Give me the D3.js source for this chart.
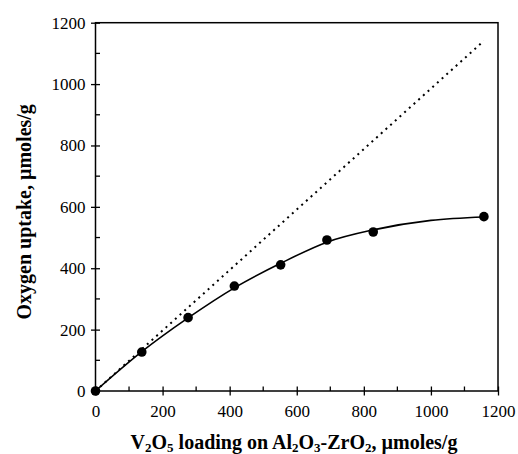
<!DOCTYPE html>
<html><head><meta charset="utf-8">
<script src="https://cdn.jsdelivr.net/npm/d3@7"></script>
<style>body{margin:0;background:#fff}svg{display:block}text{font-family:"Liberation Serif","Times New Roman",serif;fill:#000}</style>
</head><body>
<svg id="c" width="518" height="454"></svg>
<script>
const loading = [0, 138, 276, 414, 552, 690, 828, 1158];
const uptake  = [0, 127, 239, 342, 411, 492, 518, 568];
const fitX = [0, 138, 276, 414, 552, 690, 828, 1000, 1158];
const fitY = [0, 128, 238, 336, 416, 485, 525, 556, 567];
const theoryX = [0, 1158];
const theoryY = [0, 1141];
const xTicks = [0, 200, 400, 600, 800, 1000, 1200];
const yTicks = [0, 200, 400, 600, 800, 1000, 1200];

const svg = d3.select("#c");
const L = 95.5, R = 498, T = 22.7, B = 391;
const x = d3.scaleLinear().domain([0, 1200]).range([L, R]);
const y = d3.scaleLinear().domain([0, 1200]).range([B, T]);
const FONT = '"Liberation Serif", "Times New Roman", serif';

svg.append("rect").attr("x", L).attr("y", T).attr("width", R - L).attr("height", B - T)
  .attr("fill", "none").attr("stroke", "#000").attr("stroke-width", 1.5);

const minor = d3.range(100, 1200, 200);
svg.append("g").selectAll("line").data(minor).join("line")
  .attr("x1", d => x(d)).attr("x2", d => x(d)).attr("y1", B).attr("y2", B - 4.5)
  .attr("stroke", "#000").attr("stroke-width", 1.3);
svg.append("g").selectAll("line").data(minor).join("line")
  .attr("y1", d => y(d)).attr("y2", d => y(d)).attr("x1", L).attr("x2", L + 4.5)
  .attr("stroke", "#000").attr("stroke-width", 1.3);

const fmt = d3.format("d");
const xa = svg.append("g").attr("transform", `translate(0,${B})`)
  .call(d3.axisBottom(x).tickValues(xTicks).tickFormat(fmt).tickSizeInner(4.5).tickSizeOuter(0).tickPadding(9));
const ya = svg.append("g").attr("transform", `translate(${L},0)`)
  .call(d3.axisLeft(y).tickValues(yTicks).tickFormat(fmt).tickSizeInner(4.5).tickSizeOuter(0).tickPadding(6));
[xa, ya].forEach(a => {
  a.attr("font-family", FONT).attr("font-size", 17);
  a.select(".domain").remove();
  a.selectAll(".tick line").attr("stroke", "#000").attr("stroke-width", 1.3);
  a.selectAll(".tick text").attr("font-family", FONT).attr("font-size", 17).attr("fill", "#000");
});
xa.selectAll(".tick line").attr("y1", -4.5).attr("y2", 4.5);
ya.selectAll(".tick line").attr("x1", -4.5).attr("x2", 4.5);
ya.selectAll(".tick text").attr("x", -10);

svg.append("path")
  .datum(theoryX.map((d, i) => [d, theoryY[i]]))
  .attr("d", d3.line().x(d => x(d[0])).y(d => y(d[1])))
  .attr("fill", "none").attr("stroke", "#000").attr("stroke-width", 2)
  .attr("stroke-dasharray", "2,4.3");

svg.append("path")
  .datum(fitX.map((d, i) => [d, fitY[i]]))
  .attr("d", d3.line().x(d => x(d[0])).y(d => y(d[1])).curve(d3.curveMonotoneX))
  .attr("fill", "none").attr("stroke", "#000").attr("stroke-width", 1.6);

svg.append("g").selectAll("circle").data(loading).join("circle")
  .attr("cx", d => x(d)).attr("cy", (d, i) => y(uptake[i])).attr("r", 4.8).attr("fill", "#000");

const xt = svg.append("text").attr("x", 294).attr("y", 449).attr("text-anchor", "middle")
  .attr("font-family", FONT).attr("font-size", 20).attr("font-weight", "bold");
const parts = [["V",0],["2",1],["O",0],["5",1],[" loading on Al",0],["2",1],["O",0],["3",1],["-ZrO",0],["2",1],[", \u00b5moles/g",0]];
parts.forEach(([t, s], i) => {
  const prev = i > 0 ? parts[i-1][1] : 0;
  const ts = xt.append("tspan").text(t).attr("dy", s && !prev ? 3 : (!s && prev ? -3 : 0));
  if (s) ts.attr("font-size", 13);
});

svg.append("text").attr("transform", `translate(31,${(T + B) / 2 + 5}) rotate(-90)`)
  .attr("text-anchor", "middle").attr("font-family", FONT).attr("font-size", 20).attr("font-weight", "bold")
  .text("Oxygen uptake, \u00b5moles/g");
</script>
</body></html>
